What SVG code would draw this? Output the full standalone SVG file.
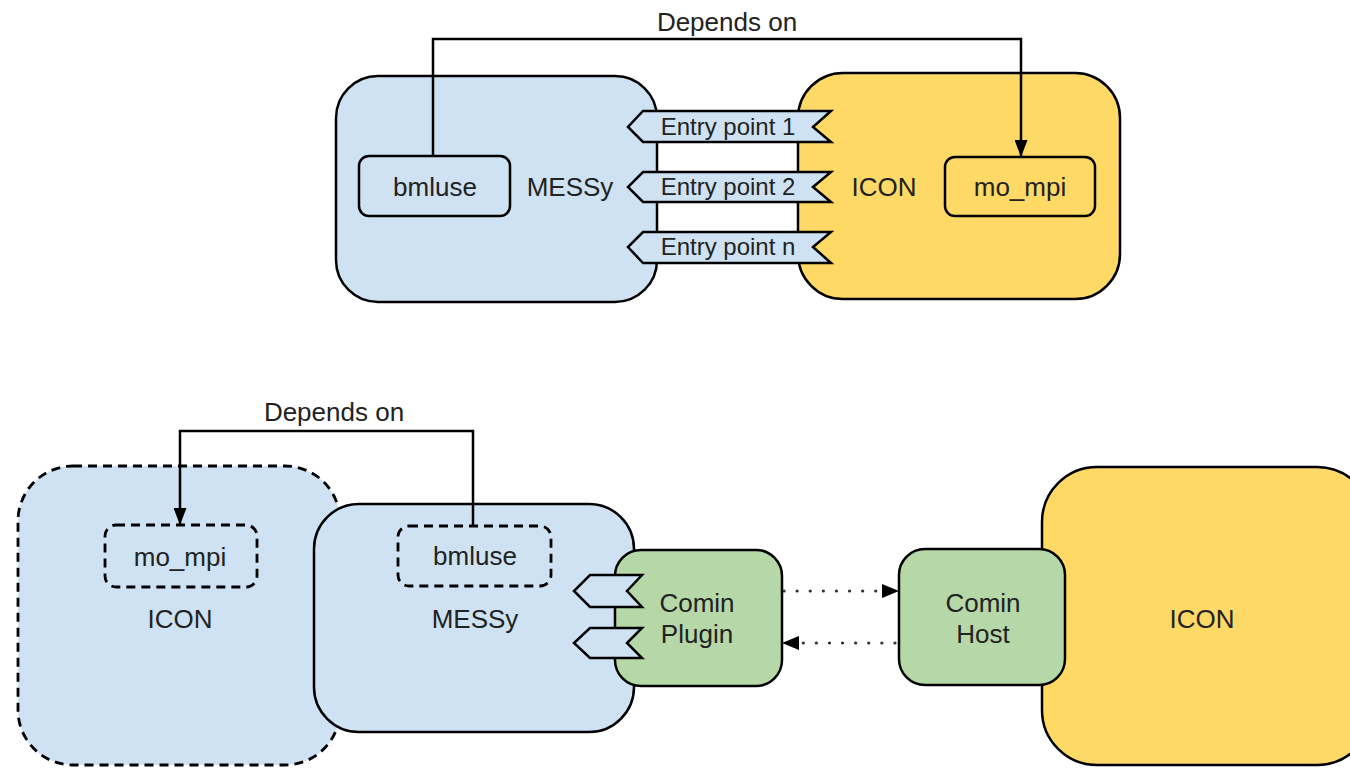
<svg xmlns="http://www.w3.org/2000/svg" width="1350" height="768" viewBox="0 0 1350 768">
<style>
text{font-family:"Liberation Sans",Arial,sans-serif;font-size:26px;fill:#222;text-anchor:middle}
text.ep{font-size:24px}
.blue{fill:#cfe2f3;stroke:#000;stroke-width:2.5}
.yellow{fill:#ffd966;stroke:#000;stroke-width:2.5}
.green{fill:#b6d7a8;stroke:#000;stroke-width:2.5}
.dash{stroke-dasharray:9 6;stroke-width:2.8}
.conn{fill:none;stroke:#000;stroke-width:2.5}
.dot{fill:none;stroke:#333;stroke-width:3.2;stroke-dasharray:0.1 13;stroke-linecap:round}
</style>
<defs>
<marker id="arr" markerWidth="13" markerHeight="17" refX="6.5" refY="17" orient="0" markerUnits="userSpaceOnUse">
<path d="M0,0 L13,0 L6.5,17 z" fill="#000"/>
</marker>
</defs>

<!-- Top section -->
<g id="top-messy">
<rect class="blue" x="336" y="76" width="321" height="226" rx="42"/>
<text x="570" y="196">MESSy</text>
</g>
<g id="top-icon">
<rect class="yellow" x="798" y="73" width="322" height="226" rx="45"/>
<text x="884" y="196">ICON</text>
</g>
<g id="top-bmluse">
<rect class="blue" x="359" y="156" width="151" height="60" rx="10"/>
<text x="435" y="196">bmluse</text>
</g>
<g id="top-mompi">
<rect class="yellow" x="945" y="157" width="150" height="59" rx="10"/>
<text x="1020" y="196">mo_mpi</text>
</g>
<g id="entry1">
<path class="blue" d="M643,111 L831,111 L813,127 L831,142 L643,142 L628,127 z"/>
<text class="ep" x="728" y="135">Entry point 1</text>
</g>
<g id="entry2">
<path class="blue" d="M643,172 L831,172 L813,187 L831,202 L643,202 L628,187 z"/>
<text class="ep" x="728" y="195">Entry point 2</text>
</g>
<g id="entryn">
<path class="blue" d="M643,232 L831,232 L813,247 L831,263 L643,263 L628,247 z"/>
<text class="ep" x="728" y="255">Entry point n</text>
</g>

<!-- Bottom section -->
<g id="bottom-icon-dashed">
<rect class="blue dash" x="18" y="466" width="322" height="299" rx="55"/>
<text x="180" y="628">ICON</text>
</g>
<g id="bottom-mompi">
<rect class="blue dash" x="105" y="525" width="152" height="62" rx="11"/>
<text x="180" y="566">mo_mpi</text>
</g>
<g id="bottom-messy">
<rect class="blue" x="314" y="504" width="320" height="228" rx="45"/>
<text x="475" y="628">MESSy</text>
</g>
<g id="bottom-bmluse">
<rect class="blue dash" x="398" y="526" width="153" height="60" rx="11"/>
<text x="475" y="565">bmluse</text>
</g>
<g id="comin-plugin">
<rect class="green" x="615" y="550" width="167" height="136" rx="26"/>
<text x="697" y="612">Comin</text>
<text x="697" y="643">Plugin</text>
</g>
<g id="plugin-tab1">
<path class="blue" d="M590,575 L642,575 L627,591 L642,607 L590,607 L574,591 z"/>
</g>
<g id="plugin-tab2">
<path class="blue" d="M590,628 L642,628 L627,643 L642,658 L590,658 L574,643 z"/>
</g>
<g id="bottom-icon">
<rect class="yellow" x="1042" y="467" width="330" height="298" rx="55"/>
<text x="1202" y="628">ICON</text>
</g>
<g id="comin-host">
<rect class="green" x="899" y="549" width="166" height="136" rx="26"/>
<text x="983" y="612">Comin</text>
<text x="983" y="643">Host</text>
</g>

<!-- Connectors -->
<g id="connectors">
<polyline class="conn" points="433,156 433,39 1021,39 1021,157" marker-end="url(#arr)"/>
<text x="727" y="31">Depends on</text>
<polyline class="conn" points="473,526 473,431 180,431 180,525" marker-end="url(#arr)"/>
<text x="334" y="421">Depends on</text>
<line class="dot" x1="784" y1="591" x2="884" y2="591"/>
<path d="M882,584 L899,591 L882,598 z" fill="#000"/>
<line class="dot" x1="895" y1="643" x2="796" y2="643"/>
<path d="M799,636 L782,643 L799,650 z" fill="#000"/>
</g>
</svg>
